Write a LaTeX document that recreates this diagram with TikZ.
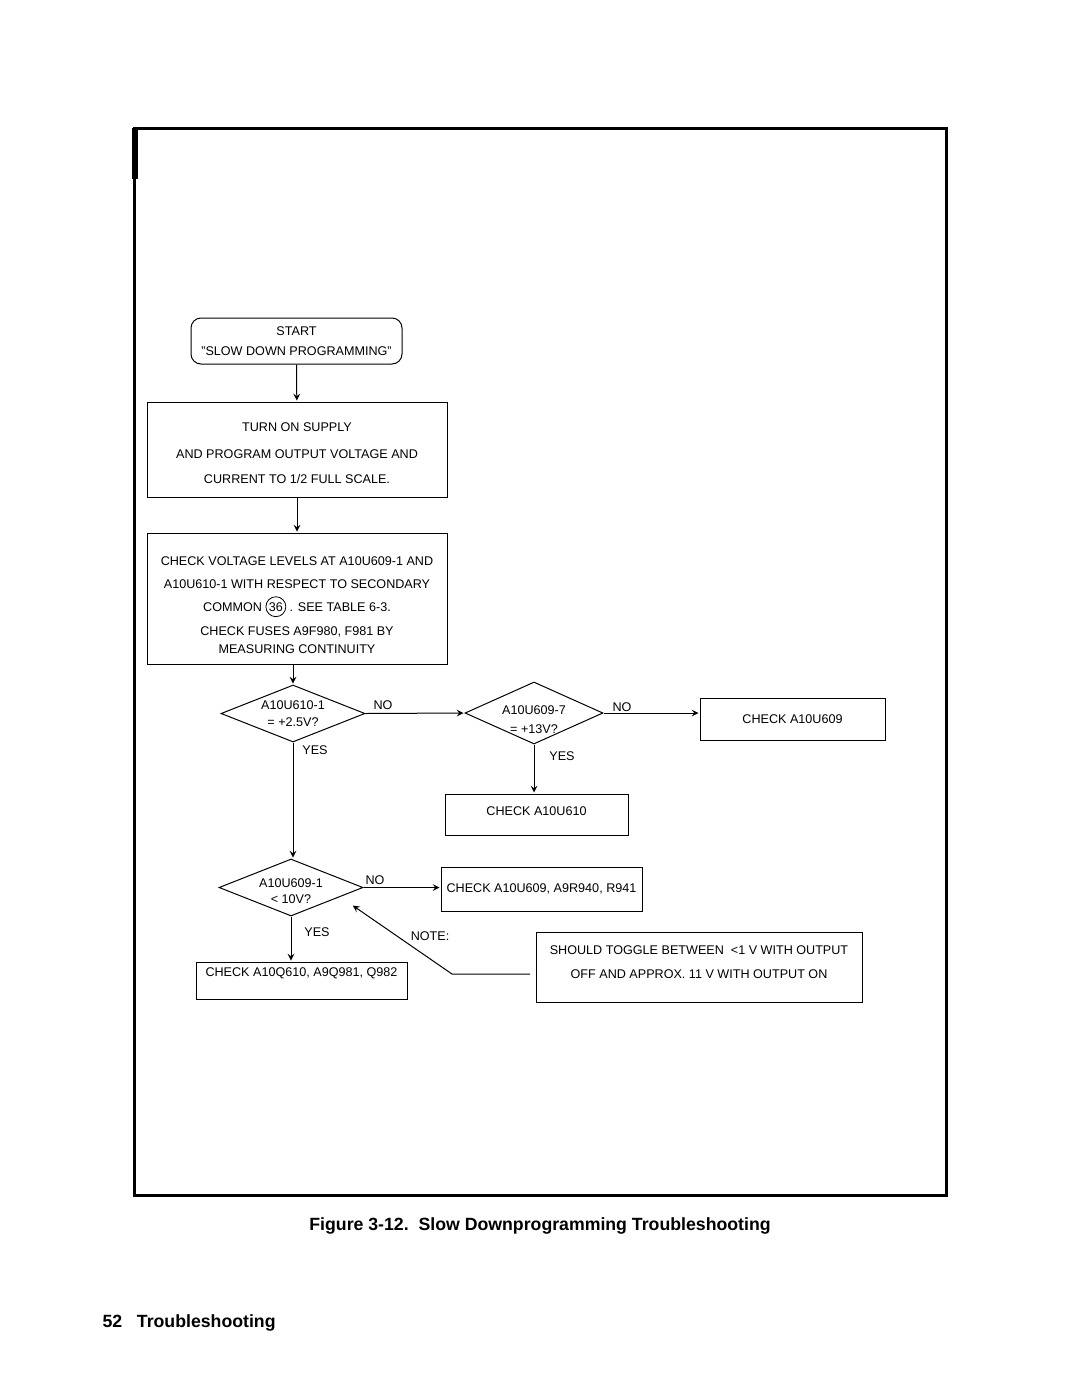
\documentclass[tikz,border=0pt]{standalone}
\usepackage{fontspec}
\setmainfont{Liberation Sans}
\usetikzlibrary{shapes.geometric,positioning}

\begin{document}
\begin{tikzpicture}[x=0.5pt,y=-0.5pt,->,>=stealth,shorten >=0.5pt,line width=0.5pt]
\tikzstyle{every node}=[font=\fontsize{6.3}{11.5}\selectfont]
\tikzstyle{box}=[draw,rectangle,align=center,inner sep=1pt]
\tikzstyle{dia}=[draw,diamond,aspect=2.5,inner sep=0pt,align=center]
\tikzstyle{lbl}=[inner sep=0pt]
\tikzstyle{circ}=[draw,circle,inner sep=0.6pt,minimum width=0pt,minimum height=0pt]
\useasboundingbox (0,0) rectangle (1080,1397);
\draw[-,line width=1.5pt] (134,128) rectangle (946,1195);
\draw[-,line width=3pt] (135,128) -- (135,180);

\node[box,rounded corners=5pt,minimum width=105.5pt,minimum height=23pt] (start) at (296.5,341) {START\\[-1.5pt]"SLOW DOWN PROGRAMMING"};
\node[box,minimum width=150pt,minimum height=47.5pt] (supply) at (297,449.5) {\rule{0pt}{7.6pt}TURN ON SUPPLY\\[2pt]AND PROGRAM OUTPUT VOLTAGE AND\\[1pt]CURRENT TO 1/2 FULL SCALE.};
\node[box,minimum width=150pt,minimum height=65.5pt] (levels) at (297,598.5) {\rule{0pt}{10.6pt}CHECK VOLTAGE LEVELS AT A10U609-1 AND\\A10U610-1 WITH RESPECT TO SECONDARY\\COMMON \tikz[baseline=(c.base)]\node[circ] (c) {36}; . SEE TABLE 6-3.\\[0.5pt]CHECK FUSES A9F980, F981 BY\\[-2.5pt]MEASURING CONTINUITY};

\node[dia,minimum width=72pt,minimum height=28.5pt] (d1) at (293,713.5) {A10U610-1\\[-3pt]= +2.5V?};
\node[dia,inner sep=-2pt,minimum width=69pt,minimum height=31pt] (d2) at (534,713) {\rule{0pt}{10.6pt}A10U609-7\\[-2pt]= +13V?};
\node[box,minimum width=92.5pt,minimum height=21pt] (chk609) at (792.5,719) {CHECK A10U609};
\node[box,minimum width=91.5pt,minimum height=20.5pt] (chk610) at (536.5,814.5) {CHECK A10U610\rule[-3pt]{0pt}{0pt}};
\node[dia,minimum width=72pt,minimum height=28.5pt] (d3) at (291,887.5) {\rule{0pt}{7.6pt}A10U609-1\\[-3.5pt]< 10V?};
\node[box,minimum width=100.5pt,minimum height=22pt] (chkr) at (541.5,889) {CHECK A10U609, A9R940, R941};
\node[box,minimum width=105.5pt,minimum height=18.5pt] (chkq) at (301.5,980.5) {CHECK A10Q610, A9Q981, Q982\rule[-8pt]{0pt}{0pt}};
\node[box,minimum width=163pt,minimum height=35pt] (note) at (699,967) {SHOULD TOGGLE BETWEEN\ \ <1 V WITH OUTPUT\\[0.5pt]OFF AND APPROX. 11 V WITH OUTPUT ON\rule[-5pt]{0pt}{0pt}};

\node[lbl] (no1) at (383,705) {NO};
\node[lbl] (no2) at (622,707) {NO};
\node[lbl] (yes1) at (315,750) {YES};
\node[lbl] (yes2) at (562,756) {YES};
\node[lbl] (no3) at (375,880) {NO};
\node[lbl] (yes3) at (317,932) {YES};
\node[lbl] (notelbl) at (430,936) {NOTE:};

\coordinate (nt) at (530,974);
\coordinate (kn) at (452,974);
\coordinate (tip) at (352,905);

\path
(start) edge (supply)
(supply) edge (levels)
(d1.north |- levels.south) edge (d1.north)
(d1.east) edge (d2.west)
(d2.east) edge (chk609.west |- d2.east)
(d2.south) edge (d2.south |- chk610.north)
(d1.south) edge (d1.south |- d3.north)
(d3.east) edge (d3.east -| chkr.west)
(d3.south) edge (d3.south |- chkq.north)
;
\draw (nt) -- (kn) -- (tip);

\node[font=\bfseries\fontsize{8.85}{11}\selectfont] (cap) at (540,1226) {Figure 3-12.\ \ Slow Downprogramming Troubleshooting};
\node[anchor=west,inner sep=0pt,font=\bfseries\fontsize{8.85}{11}\selectfont] (pg) at (102,1323) {52\ \ \ Troubleshooting};
\end{tikzpicture}
\end{document}
